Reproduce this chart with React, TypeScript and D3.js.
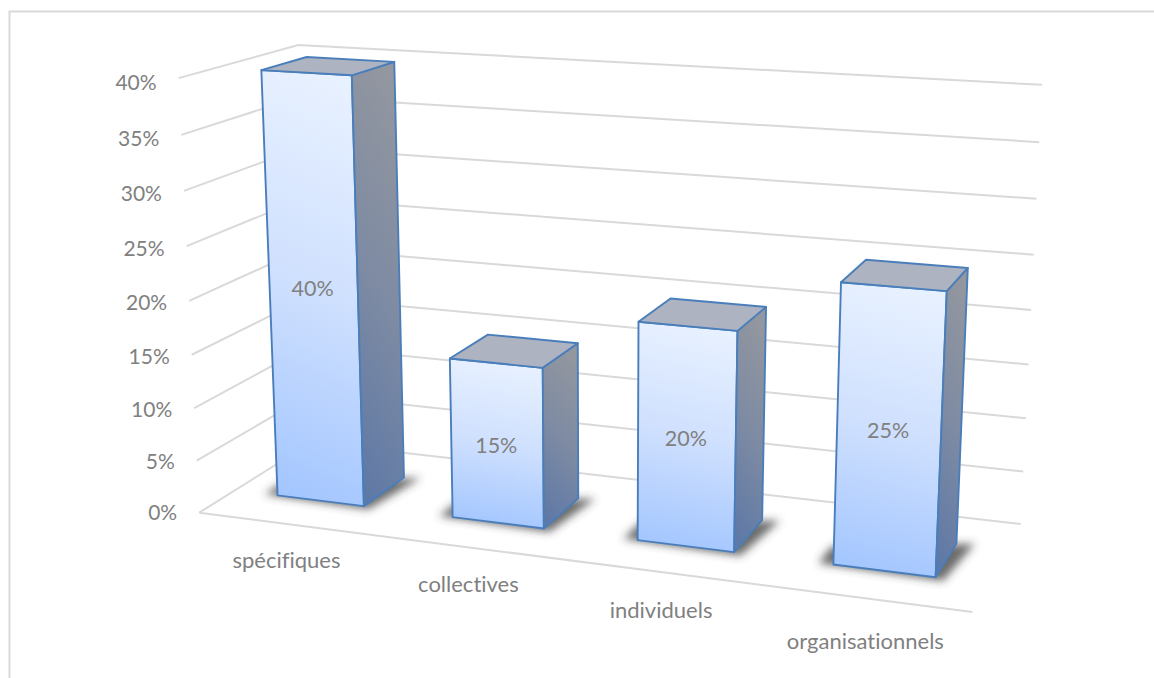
import React from "react";
import * as d3 from "d3";

// Survey shares per category
const categories = ["spécifiques", "collectives", "individuels", "organisationnels"];
const shares = [0.4, 0.15, 0.2, 0.25];
const valueTicks = [0, 0.05, 0.1, 0.15, 0.2, 0.25, 0.3, 0.35, 0.4];

type V3 = [number, number, number];
type P2 = [number, number];

// Box corners of the plot (x across, y up, z into the page) and where they land on screen.
const frameAnchors: [V3, P2][] = [
  [[0, 0, 0], [200, 512]],
  [[1, 0, 0], [972, 613]],
  [[0, 1, 0], [178, 78]],
  [[0, 0, 1], [311, 443]],
  [[1, 0, 1], [1021, 523]],
  [[0, 1, 1], [299, 45]],
  [[1, 1, 1], [1042, 85]],
];

// Least-squares fit of a 3x4 camera matrix (last entry fixed to 1).
function fitCamera(anchors: [V3, P2][]): number[] {
  const rows: number[][] = [];
  const rhs: number[] = [];
  for (const [[X, Y, Z], [sx, sy]] of anchors) {
    const u = sx / 1000, v = sy / 1000;
    rows.push([X, Y, Z, 1, 0, 0, 0, 0, -u * X, -u * Y, -u * Z]);
    rhs.push(u);
    rows.push([0, 0, 0, 0, X, Y, Z, 1, -v * X, -v * Y, -v * Z]);
    rhs.push(v);
  }
  const n = 11;
  const A = d3.range(n).map((i) =>
    d3.range(n + 1).map((j) =>
      d3.sum(rows, (r, k) => r[i] * (j === n ? rhs[k] : r[j]))
    )
  );
  for (let c = 0; c < n; c++) {
    let best = c;
    for (let r = c + 1; r < n; r++) if (Math.abs(A[r][c]) > Math.abs(A[best][c])) best = r;
    [A[c], A[best]] = [A[best], A[c]];
    for (let r = 0; r < n; r++) {
      if (r === c) continue;
      const f = A[r][c] / A[c][c];
      for (let j = c; j <= n; j++) A[r][j] -= f * A[c][j];
    }
  }
  return d3.range(n).map((i) => A[i][n] / A[i][i]);
}

const cam = fitCamera(frameAnchors);
const project = (x: number, y: number, z: number): P2 => {
  const w = cam[8] * x + cam[9] * y + cam[10] * z + 1;
  return [
    (1000 * (cam[0] * x + cam[1] * y + cam[2] * z + cam[3])) / w,
    (1000 * (cam[4] * x + cam[5] * y + cam[6] * z + cam[7])) / w,
  ];
};

const xBand = d3.scaleBand<string>().domain(categories).range([0, 1]).paddingInner(0.5).paddingOuter(0.25);
const yScale = d3.scaleLinear().domain([0, 0.4]).range([0, 1]);
const depthNear = 0.3;
const depthFar = 0.69;

// Vertical drop of each category label below the front edge
const categoryLabelDrop = [36, 36, 37, 42];

const poly = d3.line<P2>().curve(d3.curveLinearClosed);
const segment = d3.line<P2>();
const pct = d3.format(".0%");

const GRID = "#d9d9d9";
const TEXT = "#808080";
const EDGE = "#4a7ebb";
const FONT = "Lato, 'Noto Sans', sans-serif";

function Bar({ name, value }: { name: string; value: number }) {
  const x0 = xBand(name)!;
  const x1 = x0 + xBand.bandwidth();
  const h = yScale(value);
  const front = [project(x0, h, depthNear), project(x1, h, depthNear), project(x1, 0, depthNear), project(x0, 0, depthNear)];
  const side = [project(x1, h, depthNear), project(x1, h, depthFar), project(x1, 0, depthFar), project(x1, 0, depthNear)];
  const top = [project(x0, h, depthNear), project(x0, h, depthFar), project(x1, h, depthFar), project(x1, h, depthNear)];
  const sx = 0.018;
  const shadow = [
    project(x0 - sx, 0, depthNear - 0.005),
    project(x0 - sx, 0, depthFar - 0.2),
    project(x1 + sx * 1.2, 0, depthFar + 0.02),
    project(x1 + sx * 0.6, 0, depthNear - 0.03),
  ];
  return (
    <g>
      <path d={poly(shadow)!} fill="#3a3a3a" fillOpacity={0.75} filter="url(#soft)" />
      <path d={poly(front)!} fill="url(#faceFront)" stroke={EDGE} strokeWidth={1.9} strokeLinejoin="round" />
      <path d={poly(side)!} fill="url(#faceSide)" stroke={EDGE} strokeWidth={1.9} strokeLinejoin="round" />
      <path d={poly(top)!} fill="#adb3c1" stroke={EDGE} strokeWidth={1.9} strokeLinejoin="round" />
      <text
        x={d3.mean(front, (p) => p[0])! - 1}
        y={d3.mean(front, (p) => p[1])! + 1.5}
        textAnchor="middle"
        dominantBaseline="central"
        fontSize={21.5}
        fill={TEXT}
      >
        {pct(value)}
      </text>
    </g>
  );
}

export default function App() {
  return (
    <svg
      width={1154}
      height={678}
      style={{ position: "absolute", left: 0, top: 0, background: "#fff", fontVariantLigatures: "none" }}
      fontFamily={FONT}
    >
      <defs>
        <linearGradient id="faceFront" x1="0.55" y1="0" x2="0.45" y2="1">
          <stop offset="0" stopColor="#e8f1ff" />
          <stop offset="0.5" stopColor="#cfe0fe" />
          <stop offset="1" stopColor="#a3c6ff" />
        </linearGradient>
        <linearGradient id="faceSide" x1="0.6" y1="0" x2="0.4" y2="1">
          <stop offset="0" stopColor="#93979f" />
          <stop offset="0.5" stopColor="#7e8ba3" />
          <stop offset="1" stopColor="#5f79a6" />
        </linearGradient>
        <filter id="soft" x="-30%" y="-80%" width="160%" height="260%">
          <feGaussianBlur stdDeviation="4" />
        </filter>
      </defs>

      {/* Chart frame: only the top and left edges are in view */}
      <path d="M9.5 678V11.5H1154" fill="none" stroke={GRID} strokeWidth={2} />

      {/* Side wall, back wall and floor rules */}
      {valueTicks.map((t) => {
        const y = yScale(t);
        return (
          <path
            key={t}
            d={segment([project(0, y, 0), project(0, y, 1), project(1, y, 1)])!}
            fill="none"
            stroke={GRID}
            strokeWidth={2}
          />
        );
      })}
      <path d={segment([project(0, 0, 0), project(1, 0, 0)])!} fill="none" stroke={GRID} strokeWidth={2} />

      {categories.map((c, i) => (
        <Bar key={c} name={c} value={shares[i]} />
      ))}

      {/* Value axis labels along the front-left edge */}
      {valueTicks.map((t) => {
        const y = yScale(t);
        const [px, py] = project(0, y, 0);
        return (
          <text key={t} x={px - 22} y={py - 1 + 4 * y} textAnchor="end" dominantBaseline="central" fontSize={21} fill={TEXT}>
            {pct(t)}
          </text>
        );
      })}

      {/* Category labels below the front edge */}
      {categories.map((c, i) => {
        const [px, py] = project(xBand(c)! + xBand.bandwidth() / 2, 0, 0);
        return (
          <text key={c} x={px} y={py + categoryLabelDrop[i]} textAnchor="middle" dominantBaseline="central" fontSize={22} fill={TEXT}>
            {c}
          </text>
        );
      })}
    </svg>
  );
}
